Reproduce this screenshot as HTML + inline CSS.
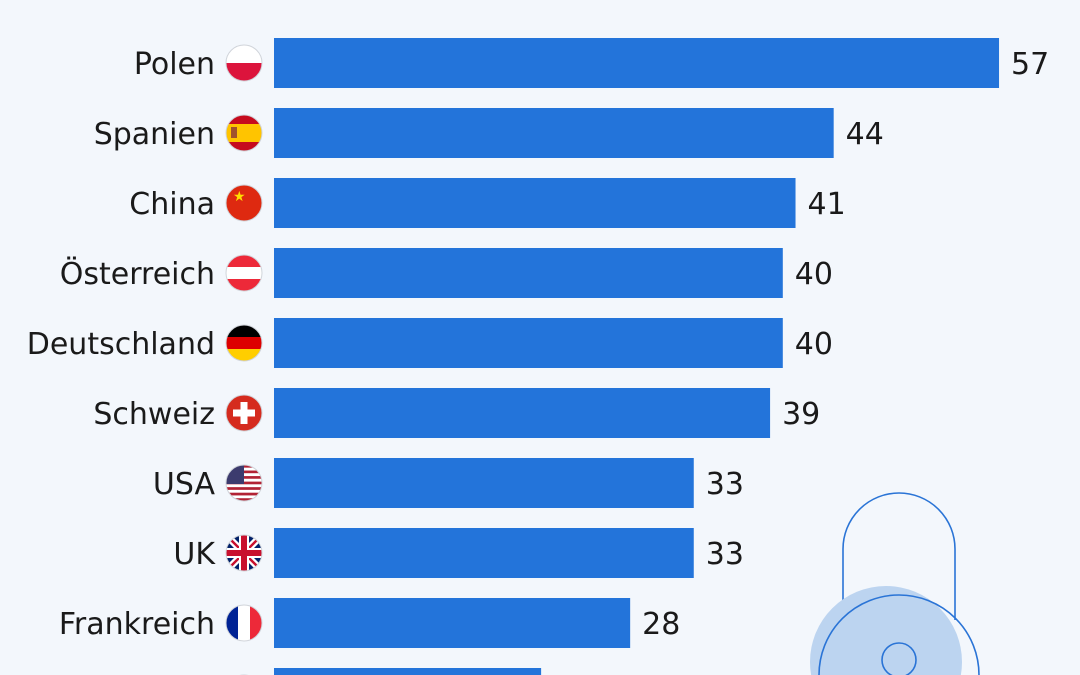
<!DOCTYPE html>
<html><head><meta charset="utf-8">
<style>
html,body{margin:0;padding:0;background:#f3f7fc;width:1080px;height:675px;overflow:hidden;}
svg{display:block;}
text{font-family:"DejaVu Sans","Liberation Sans",sans-serif;}
</style></head>
<body>
<svg id="chart" width="1080" height="675" viewBox="0 0 1080 675" xmlns="http://www.w3.org/2000/svg">
<rect width="1080" height="675" fill="#f3f7fc"/>
<defs>
<clipPath id="fc"><circle cx="0" cy="0" r="18"/></clipPath>
</defs>
<g id="lock">
<path d="M843,620 L843,549 A56,56 0 0 1 955,549 L955,620" fill="none" stroke="#2a74d6" stroke-width="1.6"/>
<circle cx="886" cy="662" r="76" fill="#bcd4f0"/>
<circle cx="899" cy="675" r="80" fill="none" stroke="#2a74d6" stroke-width="1.6"/>
<circle cx="899" cy="660" r="17" fill="none" stroke="#2a74d6" stroke-width="1.6"/>
</g>
<g id="bars"></g>
</svg>
<script>
const categories = ["Polen","Spanien","China","Österreich","Deutschland","Schweiz","USA","UK","Frankreich","Italien"];
const values = [57,44,41,40,40,39,33,33,28,21];
const flags = ["pl","es","cn","at","de","ch","us","uk","fr","it"];

const x0 = 274, pxPerUnit = 12.72, y0 = 38, step = 70, barH = 50;
const xScale = v => x0 + v * pxPerUnit;
const yScale = i => y0 + i * step;
const NS = "http://www.w3.org/2000/svg";
const g = document.getElementById("bars");
function mk(tag, attrs, parent){const e=document.createElementNS(NS,tag);for(const k in attrs)e.setAttribute(k,attrs[k]);(parent||g).appendChild(e);return e;}

function drawFlag(code, cx, cy){
  const f = mk("g",{transform:`translate(${cx},${cy})`});
  
  
  const c = mk("g",{"clip-path":"url(#fc)"},f);
  const R=(x,y,w,h,fill)=>mk("rect",{x,y,width:w,height:h,fill},c);
  switch(code){
    case "pl": R(-18,-18,36,18,"#fff"); R(-18,0,36,18,"#dc143c"); break;
    case "es": R(-18,-18,36,36,"#c60b1e"); R(-18,-9,36,18,"#ffc400"); R(-13,-6,6,11,"#a0522d"); break;
    case "cn": R(-18,-18,36,36,"#de2910"); mk("text",{x:-11,y:-2,"font-size":14,fill:"#ffde00"},c).textContent="★"; break;
    case "at": R(-18,-18,36,36,"#ed2939"); R(-18,-6,36,12,"#fff"); break;
    case "de": R(-18,-18,36,12,"#000"); R(-18,-6,36,12,"#dd0000"); R(-18,6,36,12,"#ffce00"); break;
    case "ch": R(-18,-18,36,36,"#d52b1e"); R(-3.5,-11,7,22,"#fff"); R(-11,-3.5,22,7,"#fff"); break;
    case "us": for(let k=0;k<13;k++) R(-18,-18+k*36/13,36,36/13,k%2?"#fff":"#b22234"); R(-18,-18,18,19,"#3c3b6e"); break;
    case "uk": R(-18,-18,36,36,"#012169");
      mk("path",{d:"M-18,-18L18,18M18,-18L-18,18",stroke:"#fff","stroke-width":7},c);
      mk("path",{d:"M-18,-18L18,18M18,-18L-18,18",stroke:"#c8102e","stroke-width":2.5},c);
      R(-5,-18,10,36,"#fff"); R(-18,-5,36,10,"#fff"); R(-3,-18,6,36,"#c8102e"); R(-18,-3,36,6,"#c8102e"); break;
    case "fr": R(-18,-18,12,36,"#002395"); R(-6,-18,12,36,"#fff"); R(6,-18,12,36,"#ed2939"); break;
    case "it": R(-18,-18,12,36,"#009246"); R(-6,-18,12,36,"#fff"); R(6,-18,12,36,"#ce2b37"); break;
  }
  mk("circle",{cx:0,cy:0,r:18,fill:"none",stroke:"#d0d4da","stroke-width":1},f);
}

categories.forEach((cat,i)=>{
  const y = yScale(i), cy = y + barH/2, xe = xScale(values[i]);
  const b = mk("rect",{x:x0,y:y,width:xe-x0,height:barH,fill:"#2374da"});
  
  
  const l = mk("text",{x:215,y:cy+11,"font-size":30,"text-anchor":"end",fill:"#1a1a1a"});
  l.textContent = cat;
  
  
  drawFlag(flags[i], 244, cy);
  const v = mk("text",{x:xe+12,y:cy+11,"font-size":30,fill:"#1a1a1a"});
  v.textContent = values[i];
  
  
});
</script>
</body></html>
